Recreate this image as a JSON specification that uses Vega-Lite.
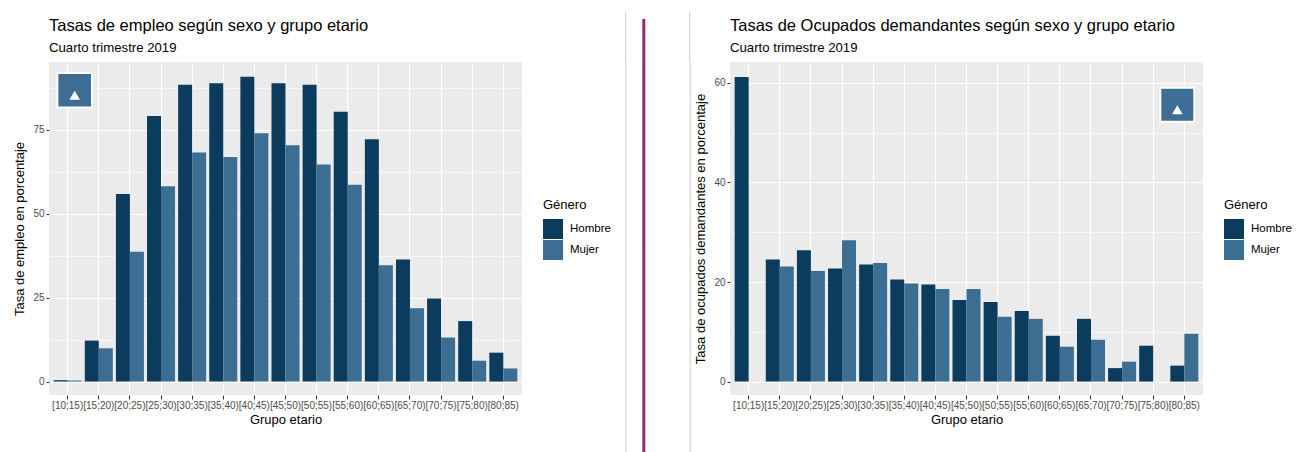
{
  "$schema": "https://vega.github.io/schema/vega-lite/v6.json",
  "background": "white",
  "padding": {"left": 13, "top": 10, "right": 0, "bottom": 0},
  "spacing": 0,
  "align": "none",
  "config": {
    "font": "Liberation Sans",
    "view": {"stroke": null},
    "axis": {"labelFont": "Liberation Sans", "titleFont": "Liberation Sans", "domain": false, "labelColor": "#4d4d4d", "labelFontSize": 10, "tickColor": "#333333", "titleFontSize": 13, "titleFontWeight": "normal", "titleColor": "#000000", "gridColor": "#ffffff"},
    "legend": {"titleFont": "Liberation Sans", "labelFont": "Liberation Sans", "titleFontSize": 13, "titleFontWeight": "normal", "titleColor": "#000000", "labelFontSize": 11.5, "labelColor": "#000000", "symbolType": "square", "symbolSize": 400, "symbolStrokeWidth": 0, "rowPadding": 1, "titlePadding": 7, "labelOffset": 7},
    "title": {"anchor": "start", "frame": "group", "font": "Liberation Sans", "subtitleFont": "Liberation Sans", "fontSize": 16.5, "fontWeight": "normal", "color": "#000000", "subtitleFontSize": 13.2, "subtitleColor": "#000000", "subtitlePadding": 7, "offset": 8, "lineHeight": 8}
  },
  "datasets": {
    "empleo": [
      {"grupo": "[10;15)", "genero": "Hombre", "tasa": 0.4}, {"grupo": "[10;15)", "genero": "Mujer", "tasa": 0.3},
      {"grupo": "[15;20)", "genero": "Hombre", "tasa": 12.2}, {"grupo": "[15;20)", "genero": "Mujer", "tasa": 9.9},
      {"grupo": "[20;25)", "genero": "Hombre", "tasa": 55.8}, {"grupo": "[20;25)", "genero": "Mujer", "tasa": 38.6},
      {"grupo": "[25;30)", "genero": "Hombre", "tasa": 79.0}, {"grupo": "[25;30)", "genero": "Mujer", "tasa": 58.1},
      {"grupo": "[30;35)", "genero": "Hombre", "tasa": 88.3}, {"grupo": "[30;35)", "genero": "Mujer", "tasa": 68.2},
      {"grupo": "[35;40)", "genero": "Hombre", "tasa": 88.8}, {"grupo": "[35;40)", "genero": "Mujer", "tasa": 66.8},
      {"grupo": "[40;45)", "genero": "Hombre", "tasa": 90.7}, {"grupo": "[40;45)", "genero": "Mujer", "tasa": 73.9},
      {"grupo": "[45;50)", "genero": "Hombre", "tasa": 88.8}, {"grupo": "[45;50)", "genero": "Mujer", "tasa": 70.3},
      {"grupo": "[50;55)", "genero": "Hombre", "tasa": 88.3}, {"grupo": "[50;55)", "genero": "Mujer", "tasa": 64.6},
      {"grupo": "[55;60)", "genero": "Hombre", "tasa": 80.3}, {"grupo": "[55;60)", "genero": "Mujer", "tasa": 58.6},
      {"grupo": "[60;65)", "genero": "Hombre", "tasa": 72.1}, {"grupo": "[60;65)", "genero": "Mujer", "tasa": 34.6},
      {"grupo": "[65;70)", "genero": "Hombre", "tasa": 36.3}, {"grupo": "[65;70)", "genero": "Mujer", "tasa": 21.8},
      {"grupo": "[70;75)", "genero": "Hombre", "tasa": 24.7}, {"grupo": "[70;75)", "genero": "Mujer", "tasa": 13.1},
      {"grupo": "[75;80)", "genero": "Hombre", "tasa": 18.0}, {"grupo": "[75;80)", "genero": "Mujer", "tasa": 6.2},
      {"grupo": "[80;85)", "genero": "Hombre", "tasa": 8.6}, {"grupo": "[80;85)", "genero": "Mujer", "tasa": 3.9}
    ],
    "ocupados": [
      {"grupo": "[10;15)", "genero": "Hombre", "tasa": 61.2},
      {"grupo": "[15;20)", "genero": "Hombre", "tasa": 24.5}, {"grupo": "[15;20)", "genero": "Mujer", "tasa": 23.1},
      {"grupo": "[20;25)", "genero": "Hombre", "tasa": 26.4}, {"grupo": "[20;25)", "genero": "Mujer", "tasa": 22.2},
      {"grupo": "[25;30)", "genero": "Hombre", "tasa": 22.7}, {"grupo": "[25;30)", "genero": "Mujer", "tasa": 28.4},
      {"grupo": "[30;35)", "genero": "Hombre", "tasa": 23.5}, {"grupo": "[30;35)", "genero": "Mujer", "tasa": 23.8},
      {"grupo": "[35;40)", "genero": "Hombre", "tasa": 20.5}, {"grupo": "[35;40)", "genero": "Mujer", "tasa": 19.7},
      {"grupo": "[40;45)", "genero": "Hombre", "tasa": 19.5}, {"grupo": "[40;45)", "genero": "Mujer", "tasa": 18.6},
      {"grupo": "[45;50)", "genero": "Hombre", "tasa": 16.4}, {"grupo": "[45;50)", "genero": "Mujer", "tasa": 18.6},
      {"grupo": "[50;55)", "genero": "Hombre", "tasa": 16.0}, {"grupo": "[50;55)", "genero": "Mujer", "tasa": 13.0},
      {"grupo": "[55;60)", "genero": "Hombre", "tasa": 14.2}, {"grupo": "[55;60)", "genero": "Mujer", "tasa": 12.6},
      {"grupo": "[60;65)", "genero": "Hombre", "tasa": 9.2}, {"grupo": "[60;65)", "genero": "Mujer", "tasa": 7.0},
      {"grupo": "[65;70)", "genero": "Hombre", "tasa": 12.6}, {"grupo": "[65;70)", "genero": "Mujer", "tasa": 8.4},
      {"grupo": "[70;75)", "genero": "Hombre", "tasa": 2.7}, {"grupo": "[70;75)", "genero": "Mujer", "tasa": 4.0},
      {"grupo": "[75;80)", "genero": "Hombre", "tasa": 7.2},
      {"grupo": "[80;85)", "genero": "Hombre", "tasa": 3.2}, {"grupo": "[80;85)", "genero": "Mujer", "tasa": 9.6}
    ]
  },
  "resolve": {"scale": {"color": "independent", "x": "independent"}, "legend": {"color": "independent"}},
  "hconcat": [
    {
      "width": 473, "height": 333,
      "title": {"text": ["", "Tasas de empleo según sexo y grupo etario"], "subtitle": "Cuarto trimestre 2019"},
      "view": {"fill": "#ebebeb", "stroke": null},
      "layer": [
        {
          "data": {"name": "empleo"},
          "mark": {"type": "bar"},
          "encoding": {
            "x": {"field": "grupo", "type": "nominal", "sort": null, "scale": {"paddingInner": 0.1, "paddingOuter": 0.15},
                  "axis": {"title": "Grupo etario", "labelAngle": 0, "labelOverlap": false, "grid": true, "gridWidth": 1.2, "bandPosition": 0.5, "tickSize": 4, "labelPadding": 1, "titlePadding": 3}},
            "xOffset": {"field": "genero", "type": "nominal", "scale": {"domain": ["Hombre", "Mujer"], "paddingInner": 0, "paddingOuter": 0}},
            "y": {"field": "tasa", "type": "quantitative", "stack": null, "scale": {"domain": [-4, 95.1], "nice": false, "zero": false},
                  "axis": {"title": "Tasa de empleo en porcentaje", "values": [0, 12.5, 25, 37.5, 50, 62.5, 75, 87.5],
                           "labelExpr": "datum.value % 25 === 0 ? format(datum.value, 'd') : ''",
                           "grid": true,
                           "gridWidth": {"condition": {"test": "datum.value % 25 === 0", "value": 1.2}, "value": 0.6},
                           "tickOpacity": {"condition": {"test": "datum.value % 25 === 0", "value": 1}, "value": 0},
                           "tickSize": 3, "labelPadding": 2, "titlePadding": 6}},
            "color": {"field": "genero", "type": "nominal", "scale": {"domain": ["Hombre", "Mujer"], "range": ["#0b3c5d", "#3c6d93"]},
                      "legend": {"title": "Género", "orient": "none", "legendX": 494, "legendY": 137}}
          }
        },
        {
          "data": {"values": [{}]},
          "mark": {"type": "point", "shape": "square", "size": 1200, "filled": true, "color": "#3e6e95", "stroke": "#ffffff", "strokeWidth": 2, "opacity": 1},
          "encoding": {"x": {"datum": "[10;15)"}, "xOffset": {"datum": "Mujer"}, "y": {"datum": 86.7}}
        },
        {
          "data": {"values": [{}]},
          "mark": {"type": "point", "shape": "triangle-up", "size": 110, "filled": true, "color": "#ffffff", "opacity": 1, "yOffset": 5},
          "encoding": {"x": {"datum": "[10;15)"}, "xOffset": {"datum": "Mujer"}, "y": {"datum": 86.7}}
        }
      ]
    },
    {
      "width": 13.5, "height": 400,
      "data": {"values": []},
      "mark": "point",
      "encoding": {"x": {"datum": 1, "type": "quantitative", "scale": {"domain": [0, 1], "nice": false, "zero": false},
                         "axis": {"orient": "top", "values": [1], "translate": 0, "tickRound": false, "tickSize": 50, "tickColor": "#cfcfcf", "tickWidth": 1, "labels": false, "domain": false, "grid": false, "title": null}}},
      "view": {"fill": null, "stroke": "#cfcfcf", "strokeWidth": 1, "strokeDash": [0, 13.5, 400, 413.5]}
    },
    {
      "width": 14.8, "height": 400,
      "data": {"values": []},
      "mark": "point",
      "encoding": {"x": {"datum": 1, "type": "quantitative", "scale": {"domain": [0, 1], "nice": false, "zero": false},
                         "axis": {"orient": "top", "values": [1], "translate": 0, "tickRound": false, "tickSize": 43, "tickColor": "#8e2a78", "tickWidth": 3, "labels": false, "domain": false, "grid": false, "title": null}}},
      "view": {"fill": null, "stroke": "#8e2a78", "strokeWidth": 3, "strokeDash": [0, 14.8, 400, 414.8]}
    },
    {
      "width": 41.7, "height": 400,
      "data": {"values": []},
      "mark": "point",
      "encoding": {"x": {"datum": 1, "type": "quantitative", "scale": {"domain": [0, 1], "nice": false, "zero": false},
                         "axis": {"orient": "top", "values": [1], "translate": 0, "tickRound": false, "tickSize": 50, "tickColor": "#cfcfcf", "tickWidth": 1, "labels": false, "domain": false, "grid": false, "title": null}}},
      "view": {"fill": null, "stroke": "#cfcfcf", "strokeWidth": 1, "strokeDash": [0, 41.7, 400, 441.7]}
    },
    {
      "width": 2.5, "height": 10,
      "data": {"values": []},
      "mark": "point",
      "encoding": {},
      "view": {"fill": null, "stroke": null}
    },
    {
      "width": 473, "height": 333,
      "title": {"text": ["", "Tasas de Ocupados demandantes según sexo y grupo etario"], "subtitle": "Cuarto trimestre 2019"},
      "view": {"fill": "#ebebeb", "stroke": null},
      "layer": [
        {
          "data": {"name": "ocupados"},
          "mark": {"type": "bar"},
          "encoding": {
            "x": {"field": "grupo", "type": "nominal", "sort": null, "scale": {"domain": ["[10;15)", "[15;20)", "[20;25)", "[25;30)", "[30;35)", "[35;40)", "[40;45)", "[45;50)", "[50;55)", "[55;60)", "[60;65)", "[65;70)", "[70;75)", "[75;80)", "[80;85)"], "paddingInner": 0.1, "paddingOuter": 0.15},
                  "axis": {"title": "Grupo etario", "labelAngle": 0, "labelOverlap": false, "grid": true, "gridWidth": 1.2, "bandPosition": 0.5, "tickSize": 4, "labelPadding": 1, "titlePadding": 3}},
            "xOffset": {"field": "genero", "type": "nominal", "scale": {"domain": ["Hombre", "Mujer"], "paddingInner": 0, "paddingOuter": 0}},
            "y": {"field": "tasa", "type": "quantitative", "stack": null, "scale": {"domain": [-2.7, 64.2], "nice": false, "zero": false},
                  "axis": {"title": "Tasa de ocupados demandantes en porcentaje", "values": [0, 10, 20, 30, 40, 50, 60],
                           "labelExpr": "datum.value % 20 === 0 ? format(datum.value, 'd') : ''",
                           "grid": true,
                           "gridWidth": {"condition": {"test": "datum.value % 20 === 0", "value": 1.2}, "value": 0.6},
                           "tickOpacity": {"condition": {"test": "datum.value % 20 === 0", "value": 1}, "value": 0},
                           "tickSize": 3, "labelPadding": 2, "titlePadding": 6}},
            "color": {"field": "genero", "type": "nominal", "scale": {"domain": ["Hombre", "Mujer"], "range": ["#0b3c5d", "#3c6d93"]},
                      "legend": {"title": "Género", "orient": "none", "legendX": 494, "legendY": 137}}
          }
        },
        {
          "data": {"values": [{}]},
          "mark": {"type": "point", "shape": "square", "size": 1150, "filled": true, "color": "#3e6e95", "stroke": "#ffffff", "strokeWidth": 2, "opacity": 1},
          "encoding": {"x": {"datum": "[80;85)"}, "xOffset": {"datum": "Hombre"}, "y": {"datum": 55.6}}
        },
        {
          "data": {"values": [{}]},
          "mark": {"type": "point", "shape": "triangle-up", "size": 110, "filled": true, "color": "#ffffff", "opacity": 1, "yOffset": 5},
          "encoding": {"x": {"datum": "[80;85)"}, "xOffset": {"datum": "Hombre"}, "y": {"datum": 55.6}}
        }
      ]
    }
  ]
}
